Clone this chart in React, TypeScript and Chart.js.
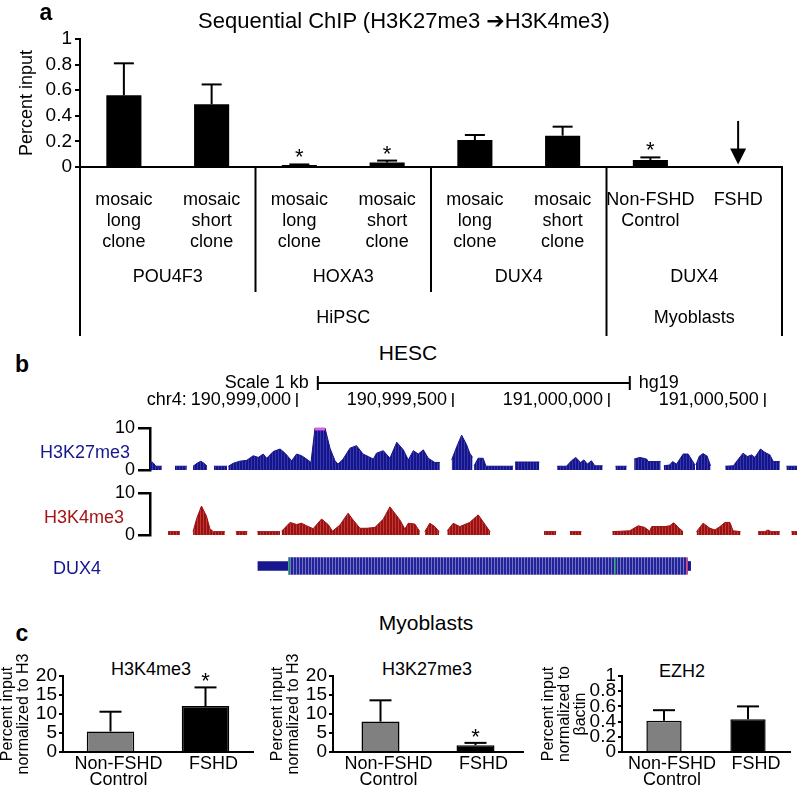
import React, { useEffect, useRef } from 'react';
import { Chart, registerables } from 'chart.js';

Chart.register(...registerables);

const FONT = '"Liberation Sans", Arial, Helvetica, sans-serif';
const NAVY = '#16168f';
const DARKRED = '#9c1010';

// ---------------- Panel a data ----------------
const aCategoryLines: string[][] = [
  ['mosaic', 'long', 'clone'],
  ['mosaic', 'short', 'clone'],
  ['mosaic', 'long', 'clone'],
  ['mosaic', 'short', 'clone'],
  ['mosaic', 'long', 'clone'],
  ['mosaic', 'short', 'clone'],
  ['Non-FSHD', 'Control'],
  ['FSHD'],
];
const aValues = [0.56, 0.49, 0.015, 0.035, 0.21, 0.245, 0.055, 0];
const aErrorTop = [0.81, 0.645, 0.02, 0.05, 0.25, 0.315, 0.075, 0];
const aStarred = [2, 3, 6];
const aGeneGroups = ['POU4F3', 'HOXA3', 'DUX4', 'DUX4'];
const aCellGroups = ['HiPSC', 'Myoblasts'];
const aCellGroupSpans = [6, 2];
const aYTicks = [0, 0.2, 0.4, 0.6, 0.8, 1];
const aArrowCategory = 7;
const aArrowTop = 0.36;
const aArrowTip = 0.02;

// ---------------- Panel b data (positions in bp relative to chr4:190,999,000) ----------------
const chromBase = 190999000;
const trackMin = -471;
const trackMax = 1603;
const coordTicks = [0, 500, 1000, 1500];
const scaleBar = [67, 1067];
const h3k27me3Segments: number[][][] = [
  [[-471, 2.0], [-462, 1.8], [-452, 0.9], [-433, 0.9]],
  [[-391, 0.9], [-353, 0.9]],
  [[-333, 0.9], [-320, 1.6], [-308, 2.1], [-298, 1.6], [-288, 0.9]],
  [[-266, 0.9], [-224, 0.9]],
  [[-220, 0.9], [-204, 1.6], [-183, 2.1], [-161, 2.3], [-140, 3.4], [-124, 3.0], [-108, 3.8], [-97, 2.8], [-76, 4.4], [-54, 5.0], [-38, 4.0], [-17, 2.2], [-1, 3.8], [15, 3.4], [31, 2.6], [45, 1.8], [58, 10], [90, 10], [106, 5.2], [122, 2.2], [132, 1.4], [148, 2.6], [170, 5.2], [191, 5.8], [212, 3.8], [229, 3.2], [245, 2.6], [255, 4.0], [277, 4.6], [298, 2.8], [320, 6.6], [341, 4.8], [357, 2.4], [373, 4.6], [389, 3.8], [405, 4.8], [421, 2.8], [442, 1.8], [458, 1.8]],
  [[496, 2.4], [512, 5.5], [528, 8.3], [544, 6.0], [554, 4.0], [563, 3.0]],
  [[568, 1.0], [581, 2.8], [597, 2.8], [606, 0.9], [693, 0.9]],
  [[699, 1.9], [777, 1.9]],
  [[834, 0.9], [864, 0.9], [880, 2.2], [894, 3.0], [909, 1.8], [920, 2.4], [931, 1.4], [944, 2.2], [955, 1.0], [980, 1.0]],
  [[1021, 0.9], [1057, 0.9]],
  [[1081, 2.6], [1099, 3.0], [1121, 2.6], [1126, 2.0], [1166, 2.0]],
  [[1176, 1.0], [1195, 1.2], [1204, 2.0], [1217, 1.4], [1238, 3.8], [1254, 3.8], [1276, 1.2]],
  [[1279, 1.2], [1290, 3.3], [1302, 3.9], [1315, 3.3], [1326, 1.0]],
  [[1373, 0.9], [1399, 1.0], [1411, 2.2], [1430, 4.0], [1444, 3.2], [1457, 3.6], [1468, 3.0], [1486, 5.0], [1500, 4.2], [1516, 3.6], [1527, 2.0], [1548, 2.0]],
  [[1569, 0.9], [1603, 0.9]],
];
const h3k4me3Segments: number[][][] = [
  [[-413, 0.8], [-375, 0.8]],
  [[-333, 0.8], [-321, 4.0], [-306, 6.9], [-290, 4.5], [-279, 1.5], [-268, 0.8], [-231, 0.8]],
  [[-196, 0.8], [-159, 0.8]],
  [[-127, 0.8], [-54, 0.8]],
  [[-49, 0.9], [-22, 3.0], [-1, 2.5], [15, 2.8], [31, 2.2], [52, 1.5], [79, 3.8], [100, 2.5], [114, 0.9], [138, 2.4], [164, 5.2], [180, 3.6], [202, 1.6], [223, 1.6], [250, 1.8], [277, 3.8], [298, 6.7], [330, 3.6], [346, 1.4], [357, 2.8], [378, 2.6], [394, 0.8]],
  [[410, 0.8], [426, 2.8], [442, 2.0], [456, 0.8]],
  [[482, 1.0], [501, 2.8], [522, 2.0], [554, 3.0], [581, 4.8], [603, 2.5], [619, 0.8]],
  [[792, 0.8], [831, 0.8]],
  [[875, 0.8], [912, 0.8]],
  [[1011, 0.8], [1067, 1.0], [1094, 2.2], [1115, 1.8], [1131, 0.9], [1137, 2.0], [1180, 2.0], [1195, 2.2], [1208, 2.9], [1227, 1.5], [1238, 0.8]],
  [[1281, 0.8], [1302, 2.8], [1324, 1.6], [1340, 1.2], [1356, 2.0], [1372, 3.0], [1388, 3.0], [1398, 1.0], [1422, 0.8]],
  [[1478, 0.8], [1500, 0.8], [1510, 1.2], [1520, 0.8], [1548, 0.8]],
  [[1585, 0.8], [1603, 0.8]],
];
const trackYTicks = [0, 10];
const dux4Utr = [-125, -26];
const dux4Cds = [-26, 1251];
const dux4Tail = [1251, 1262];
const dux4Marks = [-26, 1019];

// ---------------- Panel c data ----------------
const cCategories = [['Non-FSHD', 'Control'], 'FSHD'];
const cColors = ['#808080', '#000000'];
const c1Values = [5.4, 12.1];
const c1ErrorTop = [10.6, 17.0];
const c1Stars = [1];
const c1Ticks = [0, 5, 10, 15, 20];
const c2Values = [8.0, 1.8];
const c2ErrorTop = [13.6, 2.4];
const c2Stars = [1];
const c2Ticks = [0, 5, 10, 15, 20];
const c3Values = [0.41, 0.43];
const c3ErrorTop = [0.55, 0.6];
const c3Stars: number[] = [];
const c3Ticks = [0, 0.2, 0.4, 0.6, 0.8, 1];

// ---------------- helpers ----------------
const font = (size: number, extra: any = {}) => ({ family: FONT, size, ...extra });
const fmt = (v: number) => String(Math.round(v * 10) / 10);

function line(ctx: CanvasRenderingContext2D, x1: number, y1: number, x2: number, y2: number) {
  ctx.beginPath();
  ctx.moveTo(x1, y1);
  ctx.lineTo(x2, y2);
  ctx.stroke();
}

function toPoints(segments: number[][][]) {
  const pts: { x: number; y: number | null }[] = [];
  segments.forEach((seg, si) => {
    seg.forEach(([x, y]) => pts.push({ x, y }));
    if (si < segments.length - 1) pts.push({ x: seg[seg.length - 1][0] + 1, y: null });
  });
  return pts;
}

function stripes(base: string, light: string, period = 3) {
  const c = document.createElement('canvas');
  c.width = period;
  c.height = 4;
  const g = c.getContext('2d')!;
  g.fillStyle = base;
  g.fillRect(0, 0, period, 4);
  g.fillStyle = light;
  g.fillRect(period - 1, 0, 1, 4);
  return g.createPattern(c, 'repeat');
}

// ---------------- Panel a ----------------
const panelAPlugin = {
  id: 'panelA',
  afterDraw(chart: any) {
    const { ctx } = chart;
    const x = chart.scales.x;
    const y = chart.scales.y;
    const base = y.getPixelForValue(0);
    const half = (x.getPixelForValue(1) - x.getPixelForValue(0)) / 2;
    ctx.save();
    ctx.strokeStyle = '#000';
    ctx.fillStyle = '#000';
    ctx.lineWidth = 2;
    aValues.forEach((v, i) => {
      const e = aErrorTop[i];
      if (e <= v) return;
      const cx = x.getPixelForValue(i);
      const yv = y.getPixelForValue(v);
      const ye = y.getPixelForValue(e);
      line(ctx, cx, yv, cx, ye);
      line(ctx, cx - 10, ye, cx + 10, ye);
    });
    ctx.font = `22px ${FONT}`;
    ctx.textAlign = 'center';
    ctx.textBaseline = 'alphabetic';
    aStarred.forEach((i) => {
      const cx = x.getPixelForValue(i);
      const ye = y.getPixelForValue(Math.max(aErrorTop[i], aValues[i]));
      ctx.fillText('*', cx, ye);
    });
    // arrow
    const ax = x.getPixelForValue(aArrowCategory);
    const yTop = y.getPixelForValue(aArrowTop);
    const yTip = y.getPixelForValue(aArrowTip);
    line(ctx, ax, yTop, ax, yTip - 12);
    ctx.beginPath();
    ctx.moveTo(ax - 8, yTip - 16);
    ctx.lineTo(ax + 8, yTip - 16);
    ctx.lineTo(ax, yTip);
    ctx.closePath();
    ctx.fill();
    // category labels
    ctx.font = `18px ${FONT}`;
    ctx.textBaseline = 'middle';
    aCategoryLines.forEach((lines, i) => {
      const cx = x.getPixelForValue(i);
      lines.forEach((t, li) => ctx.fillText(t, cx, base + 33 + li * 21));
    });
    aGeneGroups.forEach((g, gi) => {
      const cx = (x.getPixelForValue(gi * 2) + x.getPixelForValue(gi * 2 + 1)) / 2;
      ctx.fillText(g, cx, base + 110);
    });
    let start = 0;
    aCellGroups.forEach((g, gi) => {
      const end = start + aCellGroupSpans[gi] - 1;
      const cx = (x.getPixelForValue(start) + x.getPixelForValue(end)) / 2;
      ctx.fillText(g, cx, base + 151);
      start = end + 1;
    });
    // separators
    ctx.lineWidth = 2;
    const outer = [0, aCellGroupSpans[0], aCategoryLines.length];
    for (let b = 0; b <= aCategoryLines.length; b += 2) {
      const bx = x.getPixelForValue(Math.min(b, aCategoryLines.length - 1)) + (b === aCategoryLines.length ? half : -half);
      const isOuter = outer.includes(b);
      line(ctx, bx, base, bx, base + (isOuter ? 169 : 125));
    }
    ctx.restore();
  },
};

function panelAConfig(): any {
  return {
    type: 'bar',
    data: {
      labels: aCategoryLines.map((l) => l.join(' ')),
      datasets: [{ data: aValues, backgroundColor: '#000', barPercentage: 0.4, categoryPercentage: 1 }],
    },
    options: {
      animation: false,
      responsive: false,
      events: [],
      layout: { padding: { top: 39, right: 15, left: 0, bottom: 0 } },
      plugins: { legend: { display: false }, tooltip: { enabled: false } },
      scales: {
        x: {
          grid: { display: false, drawTicks: false },
          border: { color: '#000', width: 2 },
          ticks: { display: false },
          afterFit: (s: any) => { s.height = 173; },
        },
        y: {
          min: 0,
          max: 1,
          afterBuildTicks: (s: any) => { s.ticks = aYTicks.map((v) => ({ value: v })); },
          ticks: { font: font(19), color: '#000', padding: 3, autoSkip: false, callback: (v: any) => fmt(v) },
          grid: { drawOnChartArea: false, tickLength: 5, color: '#000', lineWidth: 2 },
          border: { color: '#000', width: 2 },
          title: { display: true, text: 'Percent input', font: font(18), color: '#000', padding: { top: 16, bottom: 0 } },
          afterFit: (s: any) => { s.width = 80; },
        },
      },
    },
    plugins: [panelAPlugin],
  };
}

// ---------------- Panel b ----------------
const clipPlugin = {
  id: 'clipMark',
  afterDatasetsDraw(chart: any) {
    const { ctx, chartArea } = chart;
    const x = chart.scales.x;
    const yMax = chart.scales.y.max;
    const data = chart.data.datasets[0].data;
    ctx.save();
    ctx.strokeStyle = '#e060e0';
    ctx.lineWidth = 3;
    for (let i = 0; i < data.length - 1; i++) {
      if (data[i].y !== null && data[i + 1].y !== null && data[i].y >= yMax && data[i + 1].y >= yMax) {
        line(ctx, x.getPixelForValue(data[i].x), chartArea.top + 1, x.getPixelForValue(data[i + 1].x), chartArea.top + 1);
      }
    }
    ctx.restore();
  },
};

const headerPlugin = {
  id: 'header',
  afterDraw(chart: any) {
    const { ctx } = chart;
    const x = chart.scales.x;
    ctx.save();
    ctx.fillStyle = '#000';
    ctx.strokeStyle = '#000';
    ctx.font = `18px ${FONT}`;
    ctx.textBaseline = 'middle';
    // scale bar
    const sx1 = x.getPixelForValue(scaleBar[0]);
    const sx2 = x.getPixelForValue(scaleBar[1]);
    const sy = 43;
    ctx.lineWidth = 2;
    line(ctx, sx1, sy, sx2, sy);
    line(ctx, sx1, sy - 7, sx1, sy + 7);
    line(ctx, sx2, sy - 7, sx2, sy + 7);
    ctx.textAlign = 'right';
    ctx.fillText(`Scale ${(scaleBar[1] - scaleBar[0]) / 1000} kb`, sx1 - 9, sy);
    ctx.textAlign = 'left';
    ctx.fillText('hg19', sx2 + 9, sy);
    // coordinates
    const cy = 60;
    ctx.lineWidth = 1.5;
    coordTicks.forEach((p, i) => {
      const px = x.getPixelForValue(p);
      const label = (chromBase + p).toLocaleString('en-US');
      ctx.textAlign = 'right';
      ctx.fillText(label, px - 6, cy);
      line(ctx, px, cy - 7, px, cy + 7);
      if (i === 0) {
        const w = ctx.measureText(label).width;
        ctx.fillText('chr4:', px - 6 - w - 4, cy);
      }
    });
    ctx.restore();
  },
};

function trackConfig(segments: number[][][], base: string, light: string, padTop: number, padBottom: number, extraPlugins: any[]): any {
  return {
    type: 'line',
    data: {
      datasets: [{
        data: toPoints(segments),
        backgroundColor: stripes(base, light),
        borderColor: base,
        borderWidth: 1,
        pointRadius: 0,
        fill: 'origin',
        spanGaps: false,
        tension: 0,
      }],
    },
    options: {
      animation: false,
      responsive: false,
      events: [],
      layout: { padding: { top: padTop, bottom: padBottom, left: 0, right: 0 } },
      plugins: { legend: { display: false }, tooltip: { enabled: false } },
      scales: {
        x: { type: 'linear', min: trackMin, max: trackMax, display: false },
        y: {
          min: 0,
          max: 10,
          afterBuildTicks: (s: any) => { s.ticks = trackYTicks.map((v) => ({ value: v })); },
          ticks: { font: font(18), color: '#000', padding: 3, autoSkip: false },
          grid: { drawOnChartArea: false, tickLength: 12, color: '#000', lineWidth: 2.5 },
          border: { color: '#000', width: 2.5 },
          afterFit: (s: any) => { s.width = 150; },
        },
      },
    },
    plugins: extraPlugins,
  };
}

const geneMarksPlugin = {
  id: 'geneMarks',
  afterDatasetsDraw(chart: any) {
    const { ctx } = chart;
    const x = chart.scales.x;
    const cy = chart.scales.y.getPixelForValue(0);
    ctx.save();
    ctx.lineWidth = 1.5;
    ctx.strokeStyle = '#3cb371';
    dux4Marks.forEach((p) => line(ctx, x.getPixelForValue(p), cy - 8, x.getPixelForValue(p), cy + 8));
    ctx.strokeStyle = '#e0406a';
    line(ctx, x.getPixelForValue(dux4Cds[1]), cy - 8, x.getPixelForValue(dux4Cds[1]), cy + 8);
    ctx.restore();
  },
};

function geneConfig(): any {
  return {
    type: 'bar',
    data: {
      labels: ['DUX4'],
      datasets: [
        { data: [dux4Utr], backgroundColor: NAVY, barThickness: 9, grouped: false },
        { data: [dux4Cds], backgroundColor: stripes('#24249a', '#7474c4'), barThickness: 17, grouped: false },
        { data: [dux4Tail], backgroundColor: NAVY, barThickness: 9, grouped: false },
      ],
    },
    options: {
      indexAxis: 'y',
      animation: false,
      responsive: false,
      events: [],
      layout: { padding: { left: 150, right: 0, top: 0, bottom: 0 } },
      plugins: { legend: { display: false }, tooltip: { enabled: false } },
      scales: {
        x: { type: 'linear', min: trackMin, max: trackMax, display: false },
        y: { display: false },
      },
    },
    plugins: [geneMarksPlugin],
  };
}

// ---------------- Panel c ----------------
function cPlugin(values: number[], errTop: number[], stars: number[]) {
  return {
    id: 'cErr',
    afterDatasetsDraw(chart: any) {
      const { ctx } = chart;
      const x = chart.scales.x;
      const y = chart.scales.y;
      ctx.save();
      ctx.strokeStyle = '#000';
      ctx.fillStyle = '#000';
      ctx.lineWidth = 2;
      values.forEach((v, i) => {
        const cx = x.getPixelForValue(i);
        const ye = y.getPixelForValue(errTop[i]);
        line(ctx, cx, y.getPixelForValue(v), cx, ye);
        line(ctx, cx - 11, ye, cx + 11, ye);
      });
      ctx.font = `22px ${FONT}`;
      ctx.textAlign = 'center';
      ctx.textBaseline = 'alphabetic';
      stars.forEach((i) => {
        const cx = x.getPixelForValue(i);
        ctx.fillText('*', cx, y.getPixelForValue(errTop[i]) + 1);
      });
      ctx.restore();
    },
  };
}

function cConfig(values: number[], errTop: number[], stars: number[], ticks: number[], yTitle: string[], titlePad: number, barPct: number, yWidth: number, padRight: number): any {
  return {
    type: 'bar',
    data: {
      labels: cCategories,
      datasets: [{ data: values, backgroundColor: cColors, borderColor: '#000', borderWidth: 1.5, barPercentage: barPct, categoryPercentage: 1 }],
    },
    options: {
      animation: false,
      responsive: false,
      events: [],
      layout: { padding: { top: 36, right: padRight, left: 0, bottom: 0 } },
      plugins: { legend: { display: false }, tooltip: { enabled: false } },
      scales: {
        x: {
          grid: { display: false, drawTicks: false },
          border: { color: '#000', width: 2 },
          ticks: { font: font(18, { lineHeight: 0.9 }), color: '#000', padding: 4, labelOffset: 8, maxRotation: 0, autoSkip: false },
          afterFit: (s: any) => { s.height = 44; },
        },
        y: {
          min: ticks[0],
          max: ticks[ticks.length - 1],
          afterBuildTicks: (s: any) => { s.ticks = ticks.map((v) => ({ value: v })); },
          ticks: { font: font(19), color: '#000', padding: 2, autoSkip: false, callback: (v: any) => fmt(v) },
          grid: { drawOnChartArea: false, tickLength: 4, color: '#000', lineWidth: 2 },
          border: { color: '#000', width: 2 },
          title: { display: true, text: yTitle, font: font(16, { lineHeight: 1.0 }), color: '#000', padding: { top: titlePad, bottom: 0 } },
          afterFit: (s: any) => { s.width = yWidth; },
        },
      },
    },
    plugins: [cPlugin(values, errTop, stars)],
  };
}

// ---------------- components ----------------
function ChartBox({ left, top, width, height, make }: { left: number; top: number; width: number; height: number; make: () => any }) {
  const ref = useRef<HTMLCanvasElement>(null);
  useEffect(() => {
    const chart = new Chart(ref.current!, make());
    return () => chart.destroy();
  }, []);
  return (
    <canvas ref={ref} width={width} height={height} style={{ position: 'absolute', left, top, width, height }} />
  );
}

function Txt({ x, y, size, children, color = '#000', bold = false, align = 'center' }: any) {
  return (
    <div
      style={{
        position: 'absolute',
        left: x,
        top: y,
        transform: align === 'center' ? 'translate(-50%, -50%)' : 'translate(0, -50%)',
        font: `${bold ? 'bold ' : ''}${size}px ${FONT}`,
        lineHeight: 1,
        color,
        whiteSpace: 'nowrap',
      }}
    >
      {children}
    </div>
  );
}

export default function App() {
  return (
    <div style={{ position: 'absolute', left: 0, top: 0, width: 797, height: 796, background: '#fff', overflow: 'hidden' }}>
      <ChartBox left={0} top={0} width={797} height={340} make={panelAConfig} />
      <Txt x={46} y={12} size={23} bold>a</Txt>
      <Txt x={404} y={21} size={22}>
        Sequential ChIP (H3K27me3 <span style={{ fontFamily: '"DejaVu Sans", sans-serif', fontSize: 22 }}>➔</span>H3K4me3)
      </Txt>

      <Txt x={22} y={364} size={23} bold>b</Txt>
      <Txt x={408} y={352} size={21}>HESC</Txt>
      <ChartBox left={0} top={340} width={797} height={150} make={() => trackConfig(h3k27me3Segments, '#14148c', '#3838a8', 88, 20, [clipPlugin, headerPlugin])} />
      <ChartBox left={0} top={473} width={797} height={82} make={() => trackConfig(h3k4me3Segments, DARKRED, '#bb3a3a', 20, 20, [])} />
      <ChartBox left={0} top={548} width={797} height={36} make={geneConfig} />
      <Txt x={40} y={452} size={18} color={NAVY} align="left">H3K27me3</Txt>
      <Txt x={44} y={517} size={18} color="#a51515" align="left">H3K4me3</Txt>
      <Txt x={53} y={568} size={18} color={NAVY} align="left">DUX4</Txt>

      <Txt x={22} y={633} size={23} bold>c</Txt>
      <Txt x={426} y={622} size={21}>Myoblasts</Txt>
      <Txt x={151} y={669} size={18}>H3K4me3</Txt>
      <Txt x={427} y={669} size={18}>H3K27me3</Txt>
      <Txt x={682} y={671} size={18}>EZH2</Txt>
      <ChartBox left={0} top={640} width={265} height={156} make={() => cConfig(c1Values, c1ErrorTop, c1Stars, c1Ticks, ['Percent input', 'normalized to H3'], 0, 0.5, 63, 12)} />
      <ChartBox left={270} top={640} width={265} height={156} make={() => cConfig(c2Values, c2ErrorTop, c2Stars, c2Ticks, ['Percent input', 'normalized to H3'], 0, 0.4, 63, 12)} />
      <ChartBox left={530} top={640} width={267} height={156} make={() => cConfig(c3Values, c3ErrorTop, c3Stars, c3Ticks, ['Percent input', 'normalized to', 'βactin'], 11, 0.42, 92, 7)} />
    </div>
  );
}
